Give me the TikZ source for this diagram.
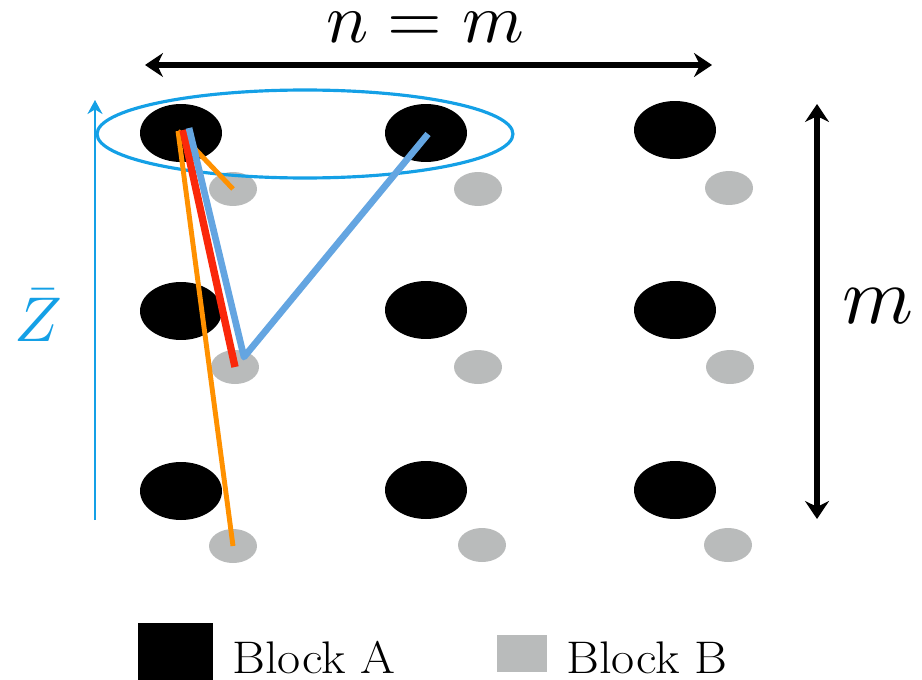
\documentclass[tikz,border=0pt]{standalone}
\usepackage{fontspec}
\usetikzlibrary{arrows.meta,shapes.geometric}
\definecolor{zblue}{RGB}{20,160,230}
\definecolor{lblue}{RGB}{100,165,225}
\definecolor{lorange}{RGB}{255,145,0}
\definecolor{lred}{RGB}{250,40,10}
\definecolor{bgray}{RGB}{185,187,187}
\begin{document}
\begin{tikzpicture}[x=0.02cm,y=-0.02cm,
  blocka/.style={shape=ellipse,fill=black,inner sep=0pt,minimum width=1.64cm,minimum height=1.16cm},
  blockb/.style={shape=ellipse,fill=bgray,inner sep=0pt,minimum width=0.96cm,minimum height=0.68cm},
  dim/.style={line width=3.6pt,{Stealth[length=0.36cm,width=0.48cm]}-{Stealth[length=0.36cm,width=0.48cm]}},
  link/.style={line width=3.8pt},
  lbl/.style={inner sep=0pt,anchor=base west,xscale=1.1,font=\fontsize{26}{30}\selectfont}]
\useasboundingbox (0,0) rectangle (922,679);
% block B (gray)
\node[blockb] (b11) at (233,189) {};
\node[blockb] (b12) at (478,189) {};
\node[blockb] (b13) at (729,188) {};
\node[blockb] (b21) at (235,367) {};
\node[blockb] (b22) at (478,367) {};
\node[blockb] (b23) at (730,367) {};
\node[blockb] (b31) at (233,546) {};
\node[blockb] (b32) at (482,545) {};
\node[blockb] (b33) at (728,545) {};
% block A (black)
\node[blocka] (a11) at (181,133) {};
\node[blocka] (a12) at (426,133) {};
\node[blocka] (a13) at (675,130) {};
\node[blocka] (a21) at (181,311) {};
\node[blocka] (a22) at (426,310) {};
\node[blocka] (a23) at (675,310) {};
\node[blocka] (a31) at (181,491) {};
\node[blocka] (a32) at (426,490) {};
\node[blocka] (a33) at (675,490) {};
% cluster ellipse
\node[shape=ellipse,draw=zblue,line width=1.8pt,inner sep=0pt,minimum width=8.32cm,minimum height=1.76cm] (clu) at (305,134) {};
% connectors
\coordinate (s1) at (178,131);
\coordinate (s2) at (183,130);
\coordinate (s3) at (189,128);
\coordinate (e21) at (244,357);
\coordinate (e12) at (428,134);
\draw[link,lorange,line width=2.8pt] (s1) -- (b11.center);
\draw[link,lorange,line width=2.8pt] (s1) -- (b31.center);
\draw[link,lred,line width=4.2pt] (s2) -- (b21.center);
\draw[link,lblue,line join=round] (s3) -- (e21) -- (e12);
% Z bar axis
\coordinate (z0) at (95,520);
\coordinate (z1) at (95,100);
\draw[zblue,line width=1.7pt,-{Stealth[length=0.28cm,width=0.3cm]}] (z0) -- (z1);
\node[text=zblue,scale=3.6] (zl) at (38,316) {$\bar{Z}$};
% dimension arrows
\coordinate (h0) at (145,65);
\coordinate (h1) at (712,65);
\draw[dim] (h0) -- (h1);
\node[scale=4] (hl) at (425,27) {$n=m$};
\coordinate (v0) at (817,104);
\coordinate (v1) at (817,519);
\draw[dim] (v0) -- (v1);
\node[scale=4.6] (vl) at (878,306) {$m$};
% legend
\node[fill=black,inner sep=0pt,minimum width=1.5cm,minimum height=1.24cm] (la) at (175.5,654) {};
\node[lbl] (lat) at (232,673) {Block A};
\node[fill=bgray,inner sep=0pt,minimum width=1.0cm,minimum height=0.74cm] (lb) at (522,653) {};
\node[lbl] (lbt) at (566,673) {Block B};
\end{tikzpicture}
\end{document}
